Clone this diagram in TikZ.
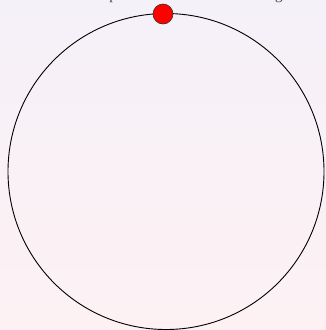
\documentclass[tikz,border=0pt]{standalone}
\usepackage{fontspec}
\setmainfont{Liberation Serif}
\definecolor{bgtop}{RGB}{245,241,248}
\definecolor{bgbot}{RGB}{253,241,244}
\definecolor{dotred}{RGB}{255,0,0}
\tikzset{
  ring/.style={draw=black, line width=0.9pt},
  marker/.style={circle, draw=black!80, fill=dotred, line width=0.6pt, minimum size=20pt, inner sep=0pt},
  caption/.style={font=\fontsize{15}{18}\selectfont, text=black!75, anchor=base west, inner sep=0pt}
}
\begin{document}
\begin{tikzpicture}[x=1pt,y=-1pt]
\shade[top color=bgtop, bottom color=bgbot] (0,0) rectangle (326,330);
\useasboundingbox (0,0) rectangle (326,330);
\begin{scope}
\clip (0,0) rectangle (326,330);
\node[caption] (cap) at (77,-0.8) {Start point on the circle at the origin};
\end{scope}
\coordinate (c) at (166,171.5);
\draw[ring] (c) circle[radius=158];
\node[marker] (dot) at (163,14) {};
\end{tikzpicture}
\end{document}
